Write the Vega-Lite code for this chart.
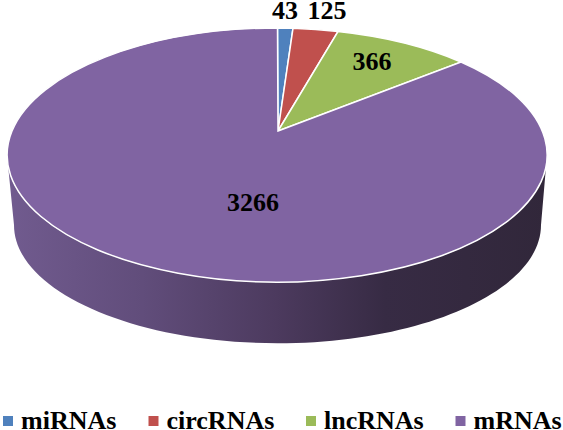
{
  "$schema": "https://vega.github.io/schema/vega-lite/v6.json",
  "width": 563,
  "height": 430,
  "padding": 0,
  "autosize": {"type": "none"},
  "background": "white",
  "view": {"stroke": null},
  "resolve": {"legend": {"color": "independent"}},
  "data": {"values": [
    {"category": "miRNAs", "value": 43},
    {"category": "circRNAs", "value": 125},
    {"category": "lncRNAs", "value": 366},
    {"category": "mRNAs", "value": 3266}
  ]},
  "layer": [
    {
      "transform": [{"filter": "datum.category === 'mRNAs'"}],
      "mark": {
        "type": "point",
        "filled": true,
        "opacity": 1,
        "size": 4,
        "shape": "M-274.5,-60 L-267.5,10 A263,118 0 0 0 259.5,10 L265.5,-60 A270,127 0 0 1 -274.5,-60 Z",
        "color": {
          "gradient": "linear",
          "x1": 0, "y1": 0, "x2": 1, "y2": 0,
          "stops": [
            {"offset": 0, "color": "#715b8f"},
            {"offset": 0.25, "color": "#614d7b"},
            {"offset": 0.5, "color": "#4c3a5e"},
            {"offset": 0.7, "color": "#372b44"},
            {"offset": 1, "color": "#31273a"}
          ]
        }
      }
    },
    {
      "mark": {"type": "point", "filled": true, "opacity": 1, "size": 4, "stroke": "white", "strokeWidth": 1.5},
      "encoding": {
        "color": {
          "field": "category",
          "type": "nominal",
          "legend": null,
          "scale": {
            "domain": ["miRNAs", "circRNAs", "lncRNAs", "mRNAs"],
            "range": ["#4f81bd", "#c0504d", "#9bbb59", "#8064a2"]
          }
        },
        "shape": {
          "field": "category",
          "type": "nominal",
          "legend": null,
          "scale": {
            "domain": ["miRNAs", "circRNAs", "lncRNAs", "mRNAs"],
            "range": [
              "M-3.5,-84 L-4,-187 A270,127 0 0 1 11.5,-186.7 Z",
              "M-3.5,-84 L11.5,-186.7 A270,127 0 0 1 56.5,-183.5 Z",
              "M-3.5,-84 L56.5,-183.5 A270,127 0 0 1 179.5,-153 Z",
              "M-3.5,-84 L179.5,-153 A270,127 0 1 1 -4,-187 Z"
            ]
          }
        }
      }
    },
    {
      "mark": {"type": "point", "filled": true, "opacity": 1, "size": 0, "shape": "square"},
      "encoding": {
        "color": {
          "field": "category",
          "type": "nominal",
          "scale": {
            "domain": ["miRNAs", "circRNAs", "lncRNAs", "mRNAs"],
            "range": ["#4f81bd", "#c0504d", "#9bbb59", "#8064a2"]
          },
          "legend": {
            "title": null,
            "orient": "none",
            "direction": "horizontal",
            "columns": 4,
            "legendX": -5,
            "legendY": 408,
            "padding": 0,
            "columnPadding": 23.5,
            "symbolType": "square",
            "symbolSize": 100,
            "symbolOpacity": 1,
            "symbolStrokeWidth": 0,
            "labelOffset": 0,
            "labelFont": "Liberation Serif",
            "labelFontWeight": "bold",
            "labelFontSize": 26,
            "labelColor": "#000000",
            "labelLimit": 200
          }
        }
      }
    },
    {
      "mark": {"type": "text", "font": "Liberation Serif", "fontWeight": "bold", "fontSize": 26, "color": "#000000", "align": "center", "baseline": "alphabetic"},
      "encoding": {
        "text": {"field": "value", "type": "quantitative"},
        "x": {
          "field": "value", "type": "quantitative", "axis": null,
          "scale": {"domain": [43, 125, 366, 3266], "range": [285, 327, 372, 253]}
        },
        "y": {
          "field": "value", "type": "quantitative", "axis": null,
          "scale": {"domain": [43, 125, 366, 3266], "range": [19, 19, 70, 211]}
        }
      }
    }
  ]
}
